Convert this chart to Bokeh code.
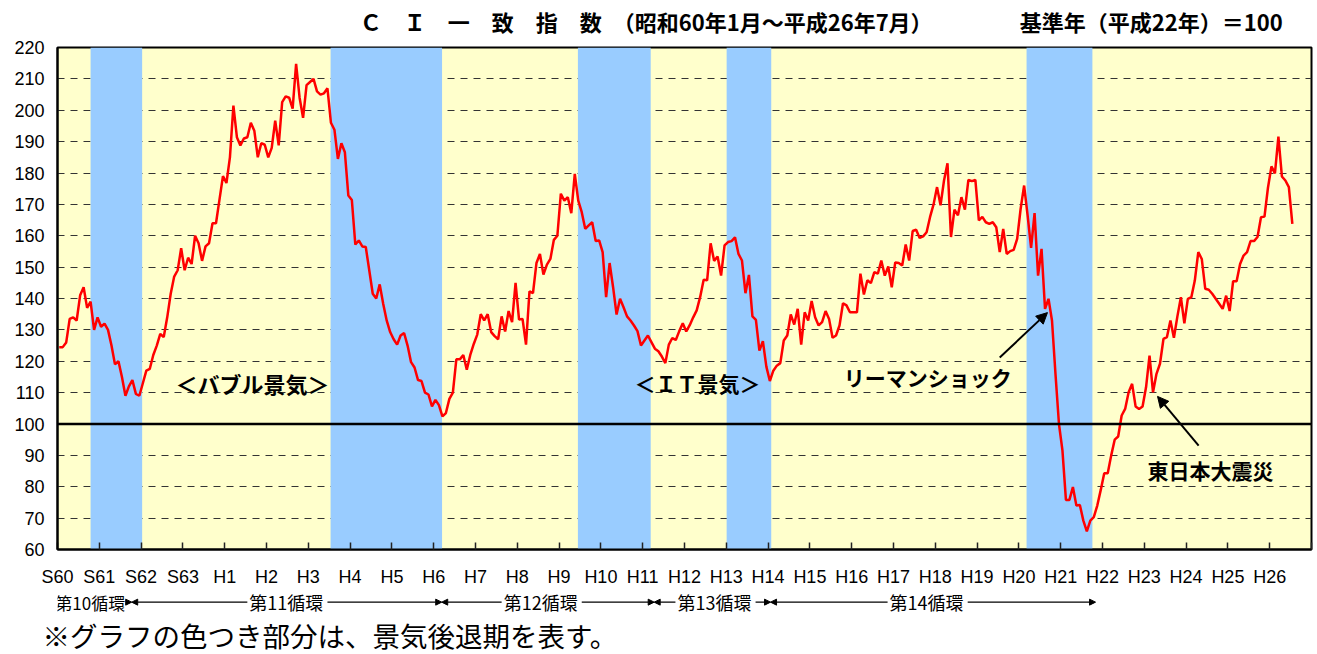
from bokeh.plotting import figure
from bokeh.models import (FixedTicker, Label, Arrow, NormalHead, Span, Range1d, Title,
                          LinearAxis)
from bokeh.layouts import column
from bokeh.embed import file_html
from bokeh.resources import INLINE

# ---- data: CI coincident index, monthly, Jan 1985 (S60) .. Jul 2014 (H26) ----
ci_1985 = [124.5, 124.5, 126, 133.5, 134, 133, 141, 143.6, 137, 139, 130, 134]
ci_1986 = [131, 132, 130, 125, 119, 120, 115, 109, 112, 114, 109.6, 109]
ci_1987 = [113, 117, 117.6, 122, 125, 128.7, 127.7, 134, 141.5, 147, 149, 156]
ci_1988 = [149, 153, 151, 160, 157.6, 152, 156.6, 157.6, 164, 164, 171.5, 179]
ci_1989 = [176.8, 185, 201.5, 191.4, 188.8, 191, 191.4, 196, 193.5, 185, 189.5, 189]
ci_1990 = [185, 188, 196.7, 188.8, 202.6, 204.4, 204, 200.5, 214.8, 204, 197.6, 208]
ci_1991 = [209, 210, 206, 205, 205.4, 207, 196, 193.8, 184.5, 189.5, 186.6, 172.8]
ci_1992 = [171.4, 157.2, 158.5, 156.6, 156.4, 149, 141.5, 140, 144.5, 138.3, 133, 129.3]
ci_1993 = [127, 125.3, 128.2, 129, 125, 119.7, 118, 114, 113.7, 110, 109.4, 105.6]
ci_1994 = [107.7, 106, 102.4, 103.5, 108, 110, 120.6, 120.6, 122, 117.3, 122, 125.5]
ci_1995 = [128.5, 135, 133, 135, 129.3, 128, 127, 134.3, 129.5, 136, 132.5, 145]
ci_1996 = [133.3, 133.5, 125.3, 142.3, 141.7, 151.3, 154.2, 147.6, 150.8, 152.6, 158.7, 160]
ci_1997 = [173.4, 171.2, 172.3, 167.2, 179.7, 171.2, 167.5, 162.2, 163.3, 164.3, 158.3, 158.5]
ci_1998 = [154.8, 140.4, 151.3, 143.6, 134.9, 139.9, 137.2, 134.3, 133, 131.4, 129.6, 125]
ci_1999 = [126.6, 128.2, 126.1, 124, 123.2, 121.5, 119.4, 125.3, 127.4, 126.8, 129.6, 132.1]
ci_2000 = [129.5, 131.5, 134, 136.2, 140.5, 146, 145.8, 157.6, 152, 153.4, 147.3, 156.9]
ci_2001 = [158, 158.3, 159.5, 154.2, 152.1, 141.7, 147.5, 134.3, 133.2, 123.4, 126.4, 118.3]
ci_2002 = [113.7, 117, 118.6, 119.4, 126.6, 128.2, 134.9, 131.7, 136.7, 125.3, 135.6, 133]
ci_2003 = [139.2, 134, 131.4, 132.5, 136, 133.5, 127.5, 128.2, 131.4, 138.5, 137.8, 135.6]
ci_2004 = [135.6, 135.6, 147.9, 141.3, 145.8, 144.9, 148.4, 147.9, 152.1, 147.3, 150.2, 143.6]
ci_2005 = [151.5, 151.3, 150.5, 157.2, 152.1, 161.5, 161.9, 159.3, 159.8, 161.1, 166, 170]
ci_2006 = [175.5, 169.7, 177.6, 183.1, 159.6, 168.3, 166.5, 172.3, 168.3, 177.8, 177.4, 177.8]
ci_2007 = [164.9, 166, 164.3, 163.8, 164.3, 162.7, 154.8, 162.2, 154.2, 155.1, 155.5, 159]
ci_2008 = [168.6, 176, 166.5, 156.1, 167.2, 147.3, 155.8, 136.7, 139.9, 133, 116, 100]
ci_2009 = [91.6, 75.8, 75.8, 79.9, 74, 74.2, 69.2, 65.8, 69.2, 70.3, 74, 79]
ci_2010 = [84.3, 84.3, 90, 95, 96, 102.7, 104.8, 110.1, 112.8, 105.6, 104.8, 105.6]
ci_2011 = [111.7, 121.8, 110.1, 116, 119.2, 127.1, 127.7, 133, 127.5, 134.3, 140.4, 132.1]
ci_2012 = [139.9, 140.4, 145.7, 154.8, 152.6, 143.1, 142.8, 141.5, 139.9, 138.3, 136.7, 140.9]
ci_2013 = [136, 145.5, 145.5, 151, 153.7, 154.8, 158.3, 158.3, 159.6, 165.9, 166.1, 175.3]
ci_2014 = [182.1, 179.9, 191.6, 178.9, 177.6, 175.5, 163.8]

year_labels = ["S60", "S61", "S62", "S63", "H1", "H2", "H3", "H4", "H5", "H6",
               "H7", "H8", "H9", "H10", "H11", "H12", "H13", "H14", "H15", "H16",
               "H17", "H18", "H19", "H20", "H21", "H22", "H23", "H24", "H25", "H26"]

# recession (shaded) periods, in months since Jan 1985
recession_start = [9.5, 78.4, 149.4, 192.1, 278.2]
recession_end = [24.3, 110.4, 170.3, 204.9, 297.1]

# business cycles: name and [start, end] in months since Jan 1985
cycle_names = ["第10循環", "第11循環", "第12循環", "第13循環", "第14循環"]
cycle_start = [0.0, 21.3, 110.3, 171.3, 204.7]
cycle_end = [21.3, 110.3, 171.3, 204.7, 298.0]

y_ticks = list(range(60, 221, 10))
base_value = 100

title_text = "Ｃ　Ｉ　一　致　指　数　（昭和60年1月～平成26年7月）"
base_text = "基準年（平成22年）＝100"
note_text = "※グラフの色つき部分は、景気後退期を表す。"

ci = (ci_1985 + ci_1986 + ci_1987 + ci_1988 + ci_1989 + ci_1990 + ci_1991 + ci_1992 +
      ci_1993 + ci_1994 + ci_1995 + ci_1996 + ci_1997 + ci_1998 + ci_1999 + ci_2000 +
      ci_2001 + ci_2002 + ci_2003 + ci_2004 + ci_2005 + ci_2006 + ci_2007 + ci_2008 +
      ci_2009 + ci_2010 + ci_2011 + ci_2012 + ci_2013 + ci_2014)
month_pos = [i + 0.5 for i in range(len(ci))]  # month centre on the category axis

JP = "Noto Sans CJK JP"
NUM = "Liberation Sans"

W = 1315
B_LEFT, B_RIGHT = 57, 4
xr = Range1d(0, 360)


def lab(fig, x, y, text, size="21px", bold=True, align="center"):
    fig.add_layout(Label(x=x, y=y, text=text, text_font=JP, text_font_size=size,
                         text_font_style="bold" if bold else "normal", text_color="black",
                         text_align=align, text_baseline="middle"))


# ---------------- main chart ----------------
p = figure(width=W, height=589, x_range=xr, y_range=Range1d(60, 220),
           output_backend="svg", toolbar_location=None,
           min_border_left=B_LEFT, min_border_right=B_RIGHT, min_border_top=47, min_border_bottom=40,
           background_fill_color="#FFFFCC", border_fill_color="white",
           outline_line_color="black", outline_line_width=2)

p.xgrid.visible = False
p.ygrid.ticker = FixedTicker(ticks=y_ticks)
p.ygrid.grid_line_color = "#333333"
p.ygrid.grid_line_dash = "7 6"
p.ygrid.grid_line_width = 1

p.quad(left=recession_start, right=recession_end, bottom=60, top=220,
       fill_color="#99CCFF", line_color=None)

p.add_layout(Span(location=base_value, dimension="width", line_color="black",
                  line_width=2.5, level="glyph"))

p.line(month_pos, ci, line_color="#FF0000", line_width=2.5)

x_ticks = [12 * k for k in range(31)]
p.xaxis.ticker = FixedTicker(ticks=x_ticks)
overrides = {12 * k: t for k, t in enumerate(year_labels)}
overrides[360] = ""
p.xaxis.major_label_overrides = overrides
p.xaxis.major_tick_in = 7
p.xaxis.major_tick_out = 0
p.xaxis.major_tick_line_color = "#222222"
p.xaxis.major_tick_line_width = 1.5
p.xaxis.minor_tick_line_color = None
p.xaxis.axis_line_width = 2
p.xaxis.major_label_standoff = 17
p.xaxis.major_label_text_font = NUM
p.xaxis.major_label_text_font_size = "18px"
p.xaxis.major_label_text_color = "black"

p.yaxis.ticker = FixedTicker(ticks=y_ticks)
p.yaxis.major_tick_in = 0
p.yaxis.major_tick_out = 0
p.yaxis.minor_tick_line_color = None
p.yaxis.axis_line_width = 2
p.yaxis.major_label_standoff = 13
p.yaxis.major_label_text_font = NUM
p.yaxis.major_label_text_font_size = "18px"
p.yaxis.major_label_text_color = "black"

# title and base year, shown as labels of a bare axis above the frame
top_axis = LinearAxis(ticker=FixedTicker(ticks=[169, 314]),
                      major_label_overrides={169: title_text, 314: base_text},
                      axis_line_color=None, major_tick_line_color=None,
                      minor_tick_line_color=None, major_tick_in=0, major_tick_out=0,
                      major_label_standoff=11, major_label_text_font=JP,
                      major_label_text_font_size="22px", major_label_text_font_style="bold",
                      major_label_text_color="black")
p.add_layout(top_axis, "above")

lab(p, 56.0, 113.2, "＜バブル景気＞", size="22px")
lab(p, 183.7, 113.2, "＜ＩＴ景気＞", size="21px")
lab(p, 249.8, 115.1, "リーマンショック", size="21px")
lab(p, 331.0, 85.2, "東日本大震災", size="21px")

p.add_layout(Arrow(end=NormalHead(size=11, fill_color="black", line_color="black"),
                   x_start=270.5, y_start=121.2, x_end=284.2, y_end=135.5,
                   line_color="black", line_width=2))
p.add_layout(Arrow(end=NormalHead(size=11, fill_color="black", line_color="black"),
                   x_start=327.6, y_start=93.1, x_end=315.8, y_end=108.8,
                   line_color="black", line_width=2))

# ---------------- bottom strip: business cycles and note ----------------
bot = figure(width=W, height=65, x_range=xr, y_range=Range1d(0, 1),
             x_axis_type=None, y_axis_type=None, output_backend="svg", toolbar_location=None,
             min_border_left=B_LEFT, min_border_right=B_RIGHT,
             min_border_top=0, min_border_bottom=30,
             outline_line_color=None, background_fill_color="white", border_fill_color="white")
bot.grid.visible = False

cy = 0.45
label_centres = [9.4, 65.7, 138.7, 188.6, 249.5]  # label placement (months)
label_sizes = ["17px", "18px", "18px", "18px", "18px"]
half = 10.0  # half label width in months
for name, c0, c1, xc, fs in zip(cycle_names, cycle_start, cycle_end, label_centres, label_sizes):
    lab(bot, xc, cy, name, size=fs, bold=False)
    left_end = xc - half - 1.2
    right_start = xc + half + 0.3 if name == "第10循環" else xc + half + 1.8
    if left_end - c0 > 3:
        bot.add_layout(Arrow(end=NormalHead(size=6, fill_color="black", line_color="black"),
                             x_start=left_end, y_start=cy, x_end=c0, y_end=cy,
                             line_color="black", line_width=1.2))
    bot.add_layout(Arrow(end=NormalHead(size=6, fill_color="black", line_color="black"),
                         x_start=right_start, y_start=cy, x_end=c1, y_end=cy,
                         line_color="black", line_width=1.2))

bot.add_layout(Title(text=note_text, align="left", offset=-15, standoff=0,
                     text_font=JP, text_font_size="27.5px", text_font_style="normal",
                     text_color="black"), "below")

layout = column(p, bot, spacing=0)
open("out.html", "w").write(file_html(layout, INLINE))
